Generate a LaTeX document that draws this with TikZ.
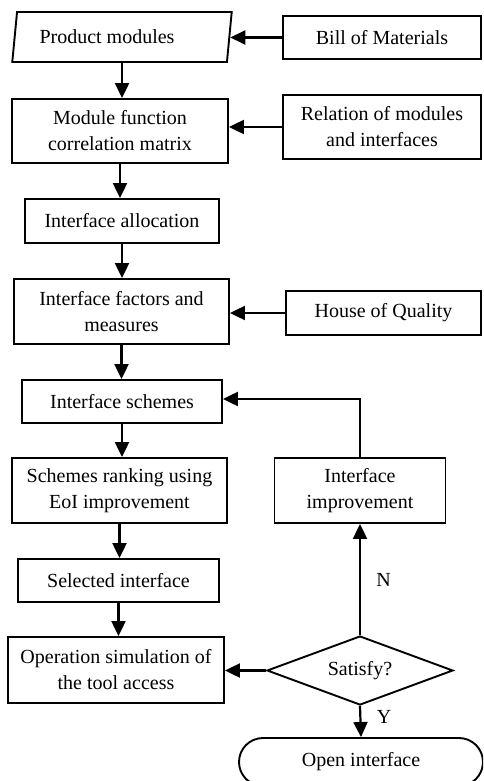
\documentclass[tikz,border=0pt]{standalone}
\usepackage{fontspec}
\setmainfont{Liberation Serif}
\usetikzlibrary{arrows.meta,positioning,shapes.geometric}

\begin{document}
\begin{tikzpicture}[x=1pt,y=-1pt,
    box/.style={draw,line width=1.9pt,align=center,inner sep=2pt,
      font=\fontsize{20}{26}\selectfont},
    arr/.style={-{Triangle[length=15pt,width=14pt]},line width=2.2pt}
  ]
    \clip (0,0) rectangle (483,781);
    \fill[white] (0,0) rectangle (483,781);
    % main column
    \node[box,trapezium,trapezium left angle=78,trapezium right angle=102,
      trapezium stretches=true,minimum width=220,minimum height=50] (prod) at (122,37) {Product modules\hspace*{30pt}};
    \node[box,minimum width=216,minimum height=64] (mfc) at (120,131) {Module function\\correlation matrix};
    \node[box,minimum width=194,minimum height=44] (alloc) at (122,221) {Interface allocation};
    \node[box,minimum width=215,minimum height=65] (fac) at (121.5,311.5) {Interface factors and\\measures};
    \node[box,minimum width=200,minimum height=43] (sch) at (122,401.5) {Interface schemes};
    \node[box,minimum width=215,minimum height=65] (rank) at (119.5,490.5) {Schemes ranking using\\EoI improvement};
    \node[box,minimum width=201,minimum height=43] (sel) at (118.5,580.5) {Selected interface};
    \node[box,minimum width=216,minimum height=66] (op) at (116,670) {Operation simulation of\\the tool access};
    % inputs on the right
    \node[box,minimum width=198,minimum height=43] (bom) at (382,37.5) {Bill of Materials};
    \node[box,minimum width=198,minimum height=64] (rel) at (382,127) {Relation of modules\\and interfaces};
    \node[box,minimum width=195,minimum height=44] (hoq) at (383.5,313) {House of Quality};
    % check loop
    \node[box,minimum width=171,minimum height=65] (impr) at (360,490.5) {Interface\\improvement};
    \node[box,diamond,aspect=2.7,inner sep=0pt,minimum width=186,minimum height=69] (sat) at (360,670.5) {Satisfy?};
    \node[box,rounded corners=24pt,minimum width=244,minimum height=48] (open) at (361,762) {Open interface};

    \draw[arr] (bom.west) -- (bom.west -| prod.east);
    \draw[arr] (rel.west) -- (rel.west -| mfc.east);
    \draw[arr] (hoq.west) -- (hoq.west -| fac.east);
    \draw[arr] (prod.south) -- (prod.south |- mfc.north);
    \draw[arr] (mfc.south) -- (mfc.south |- alloc.north);
    \draw[arr] (alloc.south) -- (alloc.south |- fac.north);
    \draw[arr] (fac.south) -- (fac.south |- sch.north);
    \draw[arr] (sch.south) -- (sch.south |- rank.north);
    \draw[arr] (rank.south) -- (rank.south |- sel.north);
    \draw[arr] (sel.south) -- (sel.south |- op.north);
    \draw[arr] (sat.west) -- (sat.west -| op.east);
    \draw[arr] (sat.north) -- node[right,xshift=12pt,font=\fontsize{20}{24}\selectfont]{N} (impr.south);
    \draw[arr] (impr.north) |- ([yshift=2.5pt]sch.east);
    \draw[arr] (sat.south) -- node[right,pos=0.35,xshift=12pt,font=\fontsize{20}{24}\selectfont]{Y} (open.north);
  \end{tikzpicture}
\end{document}
